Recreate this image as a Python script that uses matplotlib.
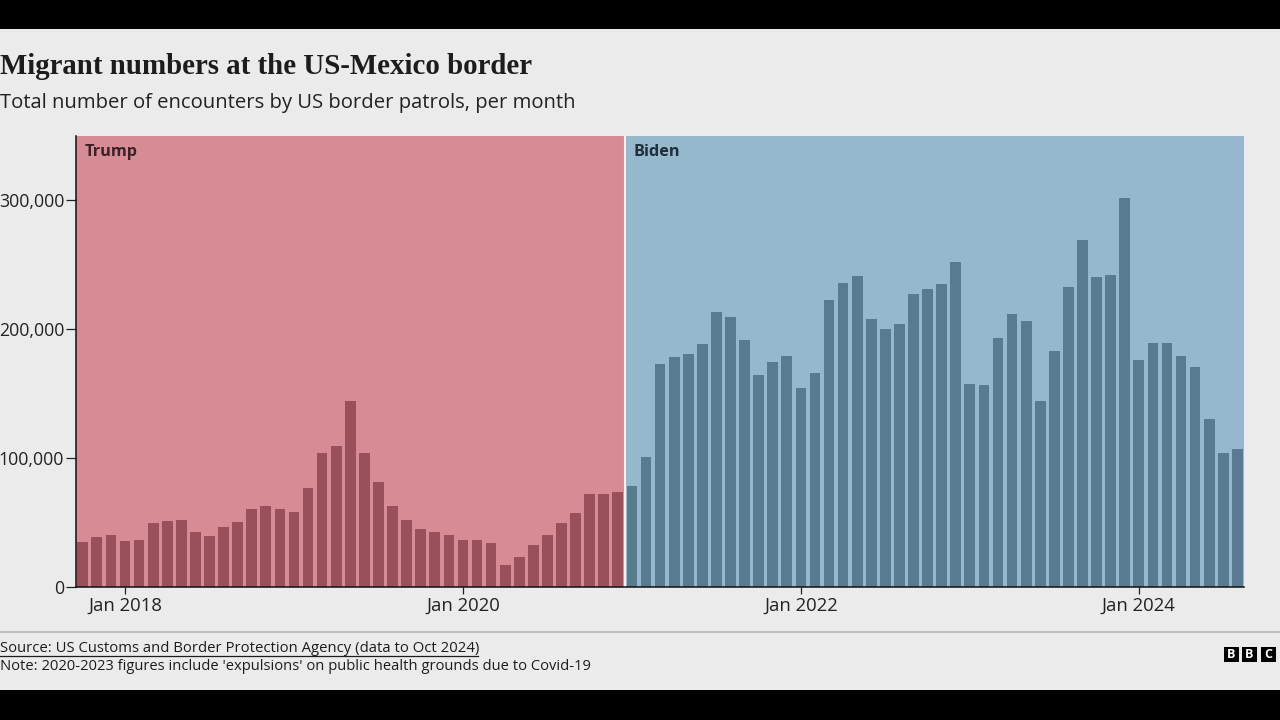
import numpy as np
import matplotlib.pyplot as plt
from matplotlib.patches import Rectangle
from matplotlib.lines import Line2D

# months counted from Jan 2018 (first bar is Oct 2017, last is Aug 2024)
trump_months = list(range(-3, 36))
trump_values = [34600, 38800, 40400, 35700, 36500, 50000, 51000, 51800, 43000, 39900,
                46600, 50300, 60700, 62500, 60700, 58300, 76600, 103900, 109600, 144000,
                104300, 81800, 62800, 52300, 45000, 42400, 40400, 36200, 36500, 34100,
                16700, 22900, 32800, 40600, 49700, 57500, 71900, 72100, 74000]

biden_months = list(range(36, 80))
biden_values = [78400, 101000, 173200, 178600, 180600, 188900, 213500, 209900, 192000, 164800,
                174900, 179100, 154800, 165900, 222600, 235800, 241200, 207800, 200100, 204000,
                227500, 231400, 235000, 252300, 157400, 156600, 193000, 212000, 206500, 144400,
                183200, 232900, 269400, 240700, 242200, 302000, 176000, 189700, 189200, 179600,
                170800, 130400, 104000, 107000]

x_ticks = [0, 24, 48, 72]
x_labels = ["Jan 2018", "Jan 2020", "Jan 2022", "Jan 2024"]
y_ticks = [0, 100000, 200000, 300000]
y_labels = ["0", "100,000", "200,000", "300,000"]

W, H = 1280, 720
BG = "#ebebeb"
INK = "#222222"
SANS = "Open Sans"


def px(x, y):
    # pixel position in the picture to figure fraction
    return x / W, 1 - y / H


fig = plt.figure(figsize=(W / 100, H / 100), dpi=100, facecolor=BG)

ax = fig.add_axes([76 / W, 1 - 587 / H, (1244 - 76) / W, (587 - 136) / H])
ax.set_facecolor(BG)
ax.set_xlim(-3.48, 79.47)
ax.set_ylim(0, 350000)

ax.axvspan(-3.48, 35.5, color="#d78b95", lw=0, zorder=0)
ax.axvspan(35.5, 79.47, color="#95b8cd", lw=0, zorder=0)
ax.axvline(35.5, color="#f2f2f2", lw=1.5, zorder=1)

ax.bar(trump_months, trump_values, width=0.76, color="#99505a", zorder=2)
ax.bar(biden_months, biden_values, width=0.76, color="#587b8f", zorder=2)

ax.set_xticks(x_ticks)
ax.set_xticklabels(x_labels, fontsize=13.3, color=INK, family=SANS)
ax.set_yticks(y_ticks)
ax.set_yticklabels(y_labels, fontsize=12.8, color=INK, family=SANS)
ax.tick_params(axis="x", length=5, width=0.9, color="#222222", pad=2)
ax.tick_params(axis="y", length=7, width=0.9, color="#222222", pad=1.5)

for side in ["top", "right"]:
    ax.spines[side].set_visible(False)
ax.spines["left"].set_linewidth(1.1)
ax.spines["left"].set_color("#111111")
ax.spines["bottom"].set_linewidth(1.1)
ax.spines["bottom"].set_color("#111111")

fig.text(*px(85, 152), "Trump", fontsize=11.7, fontweight="bold", family=SANS,
         color="#3a2327", va="center", ha="left")
fig.text(*px(633.5, 152), "Biden", fontsize=11.7, fontweight="bold", family=SANS,
         color="#1f2e38", va="center", ha="left")

# letterbox bars
fig.add_artist(Rectangle((0, 1 - 29 / H), 1, 29 / H, transform=fig.transFigure, color="black", lw=0))
fig.add_artist(Rectangle((0, 0), 1, 30 / H, transform=fig.transFigure, color="black", lw=0))

fig.text(*px(0, 67), "Migrant numbers at the US-Mexico border", fontsize=20.75,
         fontweight="bold", family="Liberation Serif", color="#1c1c1c", va="center", ha="left")
fig.text(*px(0, 103), "Total number of encounters by US border patrols, per month",
         fontsize=14.6, family=SANS, color="#222222", va="center", ha="left")

# footer
fig.add_artist(Line2D([0, 1], [1 - 631.5 / H] * 2, transform=fig.transFigure, color="#bdbdbd", lw=1.4))
fig.text(*px(0, 649), "Source: US Customs and Border Protection Agency (data to Oct 2024)",
         fontsize=10.7, family=SANS, color="#1c1c1c", va="center", ha="left")
fig.add_artist(Line2D([0, 478 / W], [1 - 656 / H] * 2, transform=fig.transFigure, color="#1c1c1c", lw=0.9))
fig.text(*px(0, 667), "Note: 2020-2023 figures include 'expulsions' on public health grounds due to Covid-19",
         fontsize=10.6, family=SANS, color="#1c1c1c", va="center", ha="left")

# BBC blocks
for left, letter in zip([1224, 1242, 1261], "BBC"):
    fig.add_artist(Rectangle((left / W, 1 - 662 / H), 15 / W, 15 / H, transform=fig.transFigure,
                             color="black", lw=0))
    fig.text(*px(left + 7.5, 654.5), letter, fontsize=9, fontweight="bold", family=SANS,
             color="white", va="center", ha="center")

fig.savefig("out.png", dpi=100, facecolor=BG)
